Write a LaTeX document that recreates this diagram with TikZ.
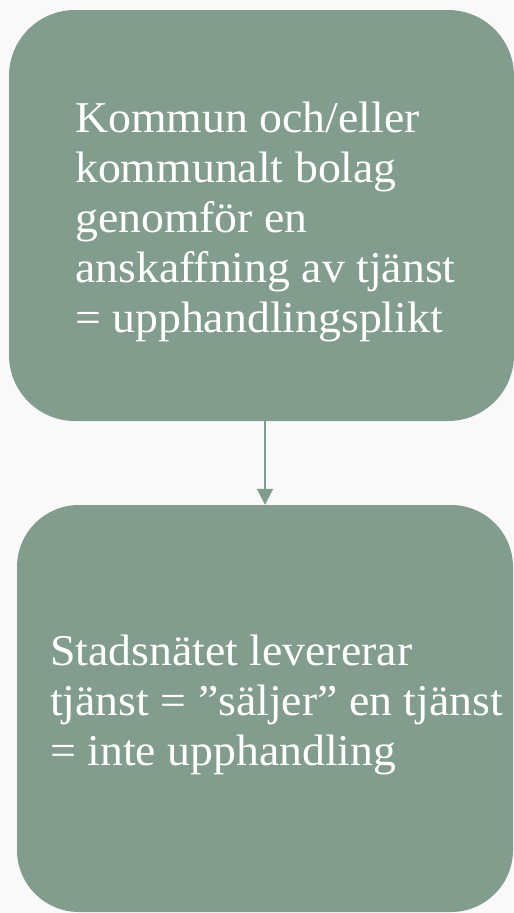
\documentclass[tikz,border=0pt]{standalone}
\usepackage{fontspec}
\setmainfont{Liberation Serif}[FakeStretch=1.04]
\usepackage{xcolor}
\usepackage{tikz}
\usetikzlibrary{shapes, arrows.meta, positioning}
\definecolor{sage}{RGB}{130,156,142}
\definecolor{paper}{RGB}{249,249,249}

\begin{document}
\begin{tikzpicture}
  [
    x=1pt, y=-1pt,
    Box/.style={rectangle, rounded corners=66pt, fill=sage, draw=none, inner sep=0pt},
    Txt/.style={anchor=north west, inner sep=0pt, align=left, text=white,
      font={\fontsize{44pt}{50pt}\selectfont}},
    Flow/.style={draw=sage, line width=2pt, -{Triangle[width=16pt, length=16pt]}}
  ]
  \useasboundingbox (0,0) rectangle (514,913);
  \fill[paper] (0,0) rectangle (514,913);
  % Nodes
  \node[Box, minimum width=505pt, minimum height=411pt] (upph) at (261.5, 215.5) {};
  \node[Box, rounded corners=62pt, minimum width=496pt, minimum height=407pt] (lev) at (265, 708.5) {};
  \node[Txt] (upphtext) at (75, 102) {Kommun och/eller\\kommunalt bolag\\genomför en\\anskaffning av tjänst\\= upphandlingsplikt};
  \node[Txt] (levtext) at (50, 635) {Stadsnätet levererar\\tjänst = ”säljer” en tjänst\\= inte upphandling};
  % Lines
  \path [Flow] (upph.south -| lev.north) -- (lev.north);
\end{tikzpicture}
\end{document}
